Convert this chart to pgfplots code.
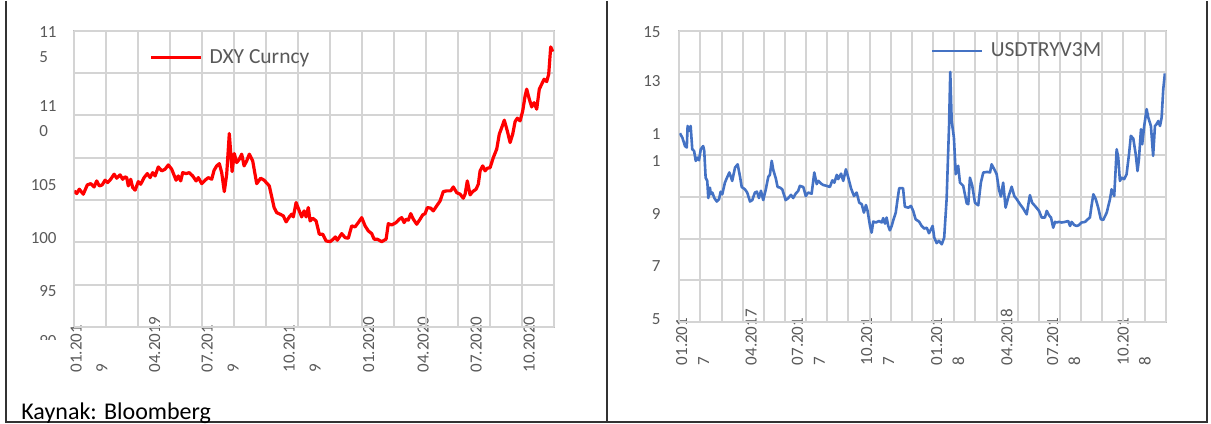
\documentclass[border=0pt]{standalone}
\usepackage{fontspec}
\setmainfont{Carlito}
\usepackage{pgfplots}
\pgfplotsset{compat=1.18}

\definecolor{gridgray}{RGB}{212,212,212}
\definecolor{boxgray}{RGB}{191,191,191}
\definecolor{labelgray}{RGB}{89,89,89}
\definecolor{xlblue}{RGB}{68,114,196}

% common look of the two Excel-like panels
\pgfplotsset{excelpanel/.style={
    scale only axis, anchor=south west,
    xmin=0, xmax=24,
    axis line style={boxgray, line width=0.9pt},
    major tick length=0pt, minor tick length=0pt,
    grid=none,
    extra x tick style={grid=major},
    extra y tick style={grid=major},
    extra x tick labels={}, extra y tick labels={},
    major grid style={gridgray, line width=1pt},
    tick label style={labelgray},
    yticklabel style={anchor=east, inner sep=0pt, align=left},
    xticklabel style={rotate=90, anchor=base west, inner sep=0pt, align=left},
    legend style={draw=none, fill=none, inner sep=0pt, anchor=west,
      column sep=3.5pt, nodes={inner sep=0pt, text=labelgray},
      font=\fontsize{10.75}{12}\selectfont},
    legend image code/.code={\draw[##1] (0pt,0pt) -- (25pt,0pt);},
}}

\begin{document}
\begin{tikzpicture}
\begin{scope}[x=0.5pt, y=-0.5pt]
  \path[use as bounding box] (0,0) rectangle (1211,423);
  \coordinate (LO) at (74.3,326);
  \coordinate (RO) at (679.3,320.7);
\end{scope}

% ---- left panel: DXY
\begin{axis}[excelpanel, at={(LO)},
    width=240pt, height=148pt,
    ymin=90, ymax=115,
    extra x ticks={0,1.6,3.2,4.8,6.4,8,9.6,11.2,12.8,14.4,16,17.6,19.2,20.8,22.4,24},
    extra y ticks={90,93.5714,97.1429,100.7143,104.2857,107.8571,111.4286,115},
    ytick={93.04,97.52,101.99,107.57,113.86},
    yticklabels={95,100,105,{11\hspace{3.5pt}\\0},{11\hspace{3.5pt}\\5}},
    yticklabel style={xshift=-8.65pt, font=\fontsize{8.5}{12.5}\selectfont},
    xtick={1.66,4.29,8.21,12.31,14.99,17.71,20.36,23.01},
    xticklabels={{01.201\\9},04.2019,{07.201\\9},{10.201\\9},01.2020,04.2020,07.2020,10.2020},
    xticklabel style={font=\fontsize{8.5}{13}\selectfont},
    xticklabel shift=23pt,
    legend style={at={(axis description cs:0.1557,0.909)}},
]
\addplot[red, line width=1.6pt, line join=round] coordinates {
(0,101.49)(0.12,101.26)(0.25,101.63)(0.45,101.21)(0.65,101.99)(0.82,102.10)(0.99,101.82)(1.12,102.33)
(1.25,101.91)(1.39,101.99)(1.54,102.39)(1.67,102.19)(1.82,102.47)(1.99,102.90)(2.12,102.56)(2.29,102.84)
(2.42,102.47)(2.54,102.67)(2.62,102.61)(2.70,101.91)(2.82,102.47)(2.92,101.77)(3.04,101.55)(3.20,102.27)
(3.32,102.05)(3.49,102.61)(3.65,102.95)(3.79,102.61)(3.92,103.03)(4.04,102.75)(4.20,103.51)(4.37,103.18)
(4.54,103.32)(4.70,103.68)(4.87,103.32)(5.09,102.39)(5.20,102.75)(5.32,102.33)(5.42,103.03)(5.59,102.95)
(5.75,103.03)(5.92,102.75)(6.09,102.33)(6.20,102.61)(6.37,102.10)(6.54,102.39)(6.70,102.61)(6.87,102.47)
(6.99,103.23)(7.12,103.60)(7.25,103.79)(7.37,103.03)(7.50,101.43)(7.62,102.90)(7.75,106.33)(7.89,103.12)
(8.00,104.64)(8.12,103.88)(8.25,104.16)(8.37,104.59)(8.49,103.60)(8.62,104.02)(8.75,104.59)(8.92,104.02)
(9.12,102.10)(9.32,102.56)(9.49,102.39)(9.75,101.91)(9.99,100.08)(10.12,99.65)(10.29,99.52)(10.45,99.38)
(10.59,98.87)(10.75,99.29)(10.87,99.52)(10.95,99.29)(11.09,100.50)(11.25,99.80)(11.37,99.29)(11.49,99.80)
(11.59,99.29)(11.70,100.08)(11.79,98.95)(11.92,99.18)(12.09,98.95)(12.25,97.83)(12.42,97.83)(12.59,97.26)
(12.79,97.20)(12.95,97.41)(13.05,97.60)(13.15,97.32)(13.37,97.88)(13.54,97.54)(13.70,97.49)(13.87,98.53)
(14.04,98.45)(14.20,98.81)(14.37,99.23)(14.54,98.53)(14.70,98.11)(14.87,97.88)(14.99,97.41)(15.15,97.41)
(15.37,97.20)(15.59,97.41)(15.70,98.72)(15.87,98.61)(16.09,98.81)(16.25,99.10)(16.37,99.23)(16.49,98.81)
(16.59,99.10)(16.70,99.01)(16.82,99.57)(16.95,99.10)(17.12,98.67)(17.29,99.10)(17.42,99.46)(17.54,99.57)
(17.65,100.08)(17.82,100.03)(17.95,99.80)(18.12,100.22)(18.29,100.64)(18.45,101.43)(18.62,101.49)(18.82,101.49)
(18.95,101.82)(19.12,101.34)(19.29,101.21)(19.45,100.87)(19.54,101.21)(19.65,102.33)(19.79,101.15)(19.92,101.43)
(20.09,101.63)(20.20,102.05)(20.29,103.18)(20.42,103.60)(20.54,103.18)(20.65,103.40)(20.79,103.45)(20.95,104.30)
(21.12,105.01)(21.25,106.28)(21.37,106.83)(21.50,107.46)(21.65,106.55)(21.79,105.57)(21.92,106.28)(22.04,107.34)
(22.15,107.63)(22.29,107.40)(22.42,108.24)(22.54,109.51)(22.62,110.08)(22.75,109.23)(22.87,108.58)(22.99,108.94)
(23.12,108.39)(23.25,110.08)(23.37,110.50)(23.49,110.92)(23.62,110.72)(23.72,111.34)(23.82,113.65)(23.92,113.25)
};
\addlegendentry{DXY Curncy}
\end{axis}

% ---- right panel: USDTRY 3M implied vol
\begin{axis}[excelpanel, at={(RO)},
    width=243.2pt, height=145.35pt,
    ymin=5, ymax=15,
    extra x ticks={0,1.0435,2.0870,3.1304,4.1739,5.2174,6.2609,7.3043,8.3478,9.3913,10.4348,11.4783,
                 12.5217,13.5652,14.6087,15.6522,16.6957,17.7391,18.7826,19.8261,20.8696,21.9130,22.9565,24},
    extra y ticks={5,6.4286,7.8571,9.2857,10.7143,12.1429,13.5714,15},
    ytick={5.09,6.92,8.70,10.99,13.28,14.97},
    yticklabels={5,7,9,{1\hspace{3pt}\\1},13,15},
    yticklabel style={xshift=-9.15pt, font=\fontsize{8.5}{13.5}\selectfont},
    xtick={1.47,3.81,7.18,10.60,14.05,16.44,19.78,23.26},
    xticklabels={{01.201\\7},04.2017,{07.201\\7},{10.201\\7},{01.201\\8},04.2018,{07.201\\8},{10.201\\8}},
    xticklabel style={font=\fontsize{8.5}{11}\selectfont},
    xticklabel shift=22pt,
    legend style={at={(axis description cs:0.517,0.931)}},
]
\addplot[xlblue, line width=1.3pt, line join=round] coordinates {
(0.03,11.48)(0.15,11.33)(0.28,11.04)(0.37,10.99)(0.41,11.73)(0.48,11.56)(0.56,11.73)(0.64,10.93)
(0.73,10.87)(0.81,10.53)(0.89,10.64)(0.97,10.55)(1.06,10.93)(1.18,11.04)(1.23,10.87)(1.30,9.95)
(1.38,9.84)(1.43,9.25)(1.51,9.61)(1.56,9.38)(1.63,9.44)(1.73,9.25)(1.85,9.13)(1.96,9.21)
(2.04,9.47)(2.12,9.38)(2.25,9.78)(2.34,9.93)(2.47,10.13)(2.61,9.84)(2.75,10.30)(2.88,10.41)
(2.99,10.01)(3.08,9.63)(3.24,9.55)(3.35,9.44)(3.49,9.13)(3.60,9.18)(3.73,9.44)(3.83,9.47)
(3.93,9.25)(4.03,9.50)(4.14,9.18)(4.26,9.52)(4.39,9.98)(4.47,10.05)(4.56,10.53)(4.64,10.21)
(4.76,9.93)(4.85,9.63)(4.97,9.61)(5.08,9.55)(5.25,9.18)(5.38,9.25)(5.51,9.36)(5.62,9.25)
(5.74,9.40)(5.87,9.50)(5.95,9.67)(6.12,9.63)(6.24,9.32)(6.36,9.44)(6.53,9.40)(6.66,10.13)
(6.78,9.73)(6.86,9.84)(6.99,9.75)(7.10,9.70)(7.27,9.67)(7.43,9.63)(7.55,9.86)(7.65,9.78)
(7.77,10.05)(7.84,9.90)(7.98,10.09)(8.09,9.84)(8.22,10.24)(8.34,9.95)(8.47,9.59)(8.62,9.32)
(8.75,9.44)(8.88,9.09)(9.00,9.04)(9.11,8.75)(9.21,9.01)(9.29,8.81)(9.41,8.29)(9.49,8.06)
(9.57,8.44)(9.70,8.41)(9.85,8.46)(9.99,8.41)(10.06,8.56)(10.15,8.37)(10.23,8.58)(10.31,8.29)
(10.39,8.14)(10.48,8.29)(10.56,8.49)(10.68,8.75)(10.77,9.21)(10.85,9.59)(11.04,9.59)(11.13,8.95)
(11.30,8.92)(11.43,8.98)(11.54,8.81)(11.66,8.52)(11.83,8.44)(11.96,8.29)(12.09,8.20)(12.21,8.23)
(12.32,8.04)(12.42,8.18)(12.50,8.29)(12.58,7.89)(12.70,7.70)(12.81,7.78)(12.95,7.66)(13.07,7.89)
(13.19,9.21)(13.31,11.73)(13.37,13.59)(13.44,11.90)(13.55,11.33)(13.64,10.07)(13.76,10.36)(13.85,9.78)
(14.01,9.67)(14.18,9.07)(14.26,9.04)(14.34,9.95)(14.45,9.69)(14.59,9.09)(14.75,9.00)(14.88,9.78)
(15.00,10.13)(15.21,10.15)(15.33,10.13)(15.41,10.41)(15.54,10.24)(15.66,10.07)(15.77,9.55)(15.87,9.30)
(15.98,9.78)(16.10,8.92)(16.23,9.27)(16.40,9.64)(16.53,9.32)(16.65,9.21)(16.81,9.04)(16.97,8.89)
(17.14,8.69)(17.30,9.35)(17.41,9.09)(17.55,8.98)(17.75,8.81)(17.88,8.58)(18.04,8.58)(18.13,8.81)
(18.24,8.66)(18.34,8.58)(18.45,8.23)(18.54,8.43)(18.62,8.41)(18.73,8.43)(18.87,8.41)(19.03,8.43)
(19.19,8.46)(19.28,8.29)(19.36,8.43)(19.49,8.32)(19.61,8.29)(19.72,8.32)(19.85,8.41)(20.02,8.43)
(20.15,8.52)(20.26,8.58)(20.34,8.98)(20.43,9.38)(20.55,9.21)(20.67,8.92)(20.80,8.52)(20.92,8.50)
(21.09,8.75)(21.25,9.21)(21.33,9.55)(21.46,9.32)(21.53,10.24)(21.58,10.93)(21.66,10.64)(21.74,9.84)
(21.83,9.95)(21.95,9.90)(22.07,10.07)(22.19,10.76)(22.28,11.39)(22.40,11.30)(22.52,10.76)(22.61,10.18)
(22.68,10.59)(22.78,11.62)(22.84,11.10)(22.94,11.73)(23.06,12.31)(23.14,12.02)(23.27,11.73)(23.38,10.70)
(23.47,11.73)(23.55,11.79)(23.63,11.90)(23.72,11.73)(23.80,12.02)(23.88,13.00)(23.96,13.54)
};
\addlegendentry{USDTRYV3M}
\end{axis}

% ---- frame, clipped bottom label and source line
\begin{scope}[x=0.5pt, y=-0.5pt]
  \begin{scope}
    \clip (20,330) rectangle (70,338.5);
    \node[anchor=east, inner sep=0pt, labelgray, font=\fontsize{8.5}{10}\selectfont] at (57,340.5) {90};
  \end{scope}
  \draw[black!80, line width=0.9pt] (6,0) -- (6,421) -- (1207,421) -- (1207,0);
  \draw[black!80, line width=0.9pt] (607,0) -- (607,421);
  \node[anchor=base west, inner sep=0pt, font=\fontsize{12}{14}\selectfont] at (21,418.5) {Kaynak: Bloomberg};
\end{scope}
\end{tikzpicture}
\end{document}
